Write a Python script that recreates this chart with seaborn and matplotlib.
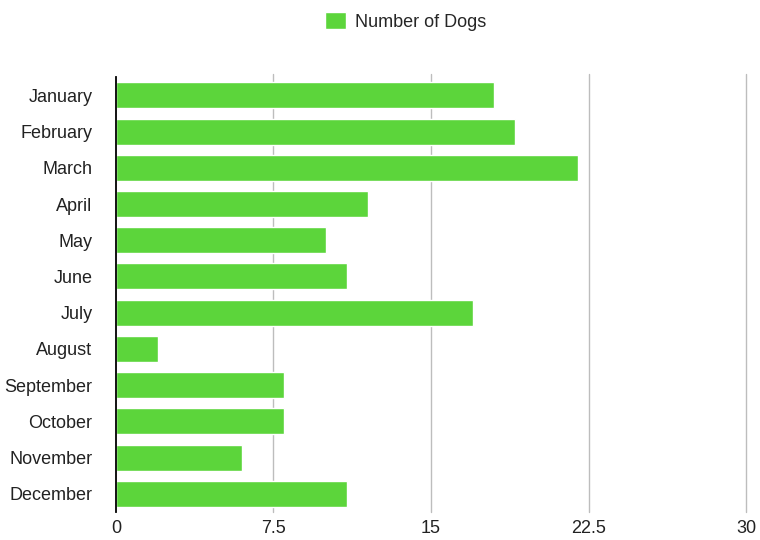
import matplotlib
matplotlib.use("Agg")
import matplotlib.pyplot as plt
import pandas as pd
import seaborn as sns

months = ["January", "February", "March", "April", "May", "June", "July",
          "August", "September", "October", "November", "December"]
dogs = [18, 19, 22, 12, 10, 11, 17, 2, 8, 8, 6, 11]
x_ticks = [0, 7.5, 15, 22.5, 30]
x_tick_labels = ["0", "7.5", "15", "22.5", "30"]

sns.set_style("white")
plt.rcParams["font.family"] = ["Liberation Sans", "DejaVu Sans"]

df = pd.DataFrame({"Month": months, "Number of Dogs": dogs})

fig = plt.figure(figsize=(7.6, 5.4), dpi=100)
ax = fig.add_axes([0.1526, 0.052, 0.829, 0.805])

sns.barplot(data=df, y="Month", x="Number of Dogs", color="#5CD53B",
            saturation=1, width=0.72, ax=ax, label="Number of Dogs")

ax.set_xlim(0, 30)
ax.set_ylim(11.5, -0.5)
ax.set_xticks(x_ticks)
ax.set_xticklabels(x_tick_labels)
ax.set_xlabel("")
ax.set_ylabel("")
for x in x_ticks[1:]:
    ax.axvline(x, ymin=0, ymax=1.008, color="#bdbdbd", lw=1, zorder=0, clip_on=False)
for s in ["top", "right", "bottom"]:
    ax.spines[s].set_visible(False)
ax.spines["left"].set_color("black")
ax.spines["left"].set_linewidth(1.3)
ax.tick_params(axis="both", length=0, labelsize=13, colors="#222222")
ax.tick_params(axis="y", pad=17)
ax.tick_params(axis="x", pad=6)

ax.legend(loc="center", bbox_to_anchor=(0.534, 0.961), bbox_transform=fig.transFigure,
          frameon=False, fontsize=13, handlelength=1.15, handleheight=1.15,
          handletextpad=0.5)

fig.savefig("out.png", dpi=100)
